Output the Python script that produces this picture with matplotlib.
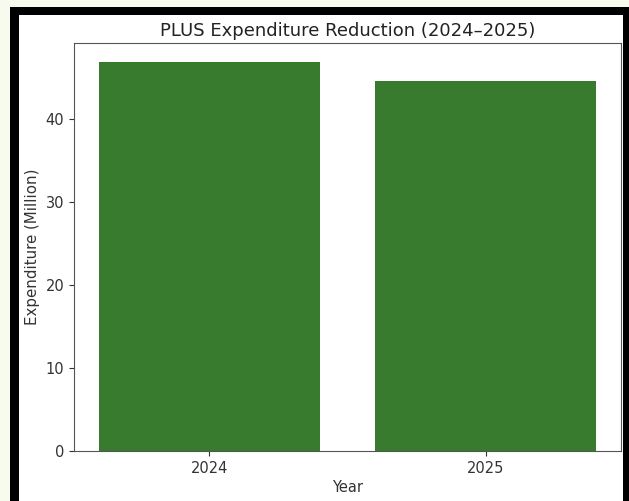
import matplotlib
matplotlib.use("Agg")
import matplotlib.pyplot as plt
from matplotlib.patches import Rectangle

years = ["2024", "2025"]
expenditure = [46.8, 44.6]

W, H = 629, 501
fig = plt.figure(figsize=(W / 100, H / 100), dpi=100, facecolor="#f7fbee")

# screenshot frame: black border, white canvas
fig.add_artist(Rectangle((10 / W, 0), (W - 10) / W, (H - 7) / H, transform=fig.transFigure,
                         facecolor="black", edgecolor="none", zorder=-2))
fig.add_artist(Rectangle((19 / W, 0), (623 - 19) / W, (H - 15) / H, transform=fig.transFigure,
                         facecolor="white", edgecolor="none", zorder=-1))

ax = fig.add_axes([74 / W, 1 - 451 / H, (621 - 74) / W, (451 - 43) / H])
ax.bar(years, expenditure, color="#387a2e", width=0.8)
ax.set_title("PLUS Expenditure Reduction (2024\u20132025)", fontsize=13, color="#222222", pad=5)
ax.set_xlabel("Year", fontsize=10.5, color="#333333", labelpad=3)
ax.set_ylabel("Expenditure (Million)", fontsize=10.8, color="#333333")
ax.tick_params(labelsize=10.5, colors="#333333")
for s in ax.spines.values():
    s.set_color("#555555")

fig.savefig("out.png", dpi=100, facecolor=fig.get_facecolor())
